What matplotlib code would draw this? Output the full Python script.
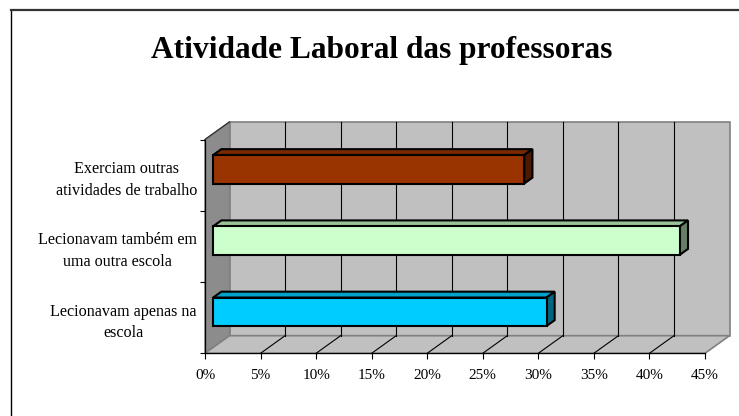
import matplotlib
matplotlib.use('Agg')
import matplotlib.pyplot as plt
from matplotlib.patches import Polygon
from matplotlib.lines import Line2D

plt.rcParams['font.family'] = ['Liberation Serif', 'DejaVu Serif']

# ---- data ----
categories = ["Lecionavam apenas na\nescola",
              "Lecionavam também em\numa outra escola",
              "Exerciam outras\natividades de trabalho"]
values = [30, 42, 28]
front_colors = ['#00ccff', '#ccffcc', '#993300']
top_colors = ['#00a3cc', '#99c299', '#7a2900']
side_colors = ['#006680', '#668066', '#4d1a00']
xticks = [0, 5, 10, 15, 20, 25, 30, 35, 40, 45]
xtick_labels = ['0%', '5%', '10%', '15%', '20%', '25%', '30%', '35%', '40%', '45%']
title = "Atividade Laboral das professoras"

# ---- figure / layout (pixel geometry) ----
W, H = 739, 416
fig = plt.figure(figsize=(W / 100, H / 100), dpi=100)
L, R, B, T = 205, 705, 353.3, 139.5
ax = fig.add_axes([L / W, 1 - B / H, (R - L) / W, (B - T) / H])
XMAX = 45
ax.set_xlim(0, XMAX)
ax.set_ylim(-0.5, 2.5)
ax.set_facecolor('none')

# depth offset in data units (oblique projection)
DX = 24.5 * XMAX / (R - L)
DY = 17.6 * 3 / (B - T)


def P(x, y, d):
    return (x + d * DX, y + d * DY)


def poly(pts, fc, ec, lw, z):
    ax.add_patch(Polygon(pts, closed=True, facecolor=fc, edgecolor=ec,
                         linewidth=lw, zorder=z, clip_on=False,
                         joinstyle='miter'))


y0, y1 = -0.5, 2.5
# back wall
poly([P(0, y0, 1), P(XMAX, y0, 1), P(XMAX, y1, 1), P(0, y1, 1)],
     '#c0c0c0', '#808080', 1.2, 0.5)
# side wall
poly([P(0, y0, 0), P(0, y0, 1), P(0, y1, 1), P(0, y1, 0)],
     '#8c8c8c', '#808080', 1.0, 0.6)
# floor
poly([P(0, y0, 0), P(XMAX, y0, 0), P(XMAX, y0, 1), P(0, y0, 1)],
     '#c0c0c0', '#808080', 1.2, 0.6)

# gridlines on back wall and floor
for xv in xticks[1:-1]:
    ax.add_line(Line2D(*zip(P(xv, y0, 1), P(xv, y1, 1)), color='black',
                       linewidth=0.8, zorder=0.8, clip_on=False))
    ax.add_line(Line2D(*zip(P(xv, y0, 0), P(xv, y0, 1)), color='black',
                       linewidth=0.8, zorder=0.8, clip_on=False))
# top-left edge of side wall
ax.add_line(Line2D(*zip(P(0, y1, 0), P(0, y1, 1)), color='#303030',
                   linewidth=0.9, zorder=0.9, clip_on=False))

# bars
hw = 0.2
d0, d1 = 1 / 3, 2 / 3
for i, v in enumerate(values):
    yc = i
    poly([P(0, yc + hw, d0), P(v, yc + hw, d0), P(v, yc + hw, d1), P(0, yc + hw, d1)],
         top_colors[i], 'black', 1.5, 3)
    poly([P(v, yc - hw, d0), P(v, yc - hw, d1), P(v, yc + hw, d1), P(v, yc + hw, d0)],
         side_colors[i], 'black', 1.5, 3)
    poly([P(0, yc - hw, d0), P(v, yc - hw, d0), P(v, yc + hw, d0), P(0, yc + hw, d0)],
         front_colors[i], 'black', 1.5, 4)

# axes / ticks
for s in ['top', 'right']:
    ax.spines[s].set_visible(False)
for s in ['left', 'bottom']:
    ax.spines[s].set_color('black')
    ax.spines[s].set_linewidth(0.9)
    ax.spines[s].set_zorder(1)

ax.set_xticks(xticks)
ax.set_xticklabels(xtick_labels, fontsize=11)
ax.tick_params(axis='x', direction='out', length=4.3, width=0.8, pad=7,
               color='black')
ax.set_yticks([-0.5, 0.5, 1.5, 2.5])
ax.set_yticklabels([])
ax.tick_params(axis='y', which='major', direction='out', length=3.6, width=0.8)
ax.set_yticks([0, 1, 2], minor=True)
ax.set_yticklabels(categories, minor=True, fontsize=11.6)
ax.tick_params(axis='y', which='minor', length=0, pad=5.8)
for lbl in ax.get_yticklabels(minor=True):
    lbl.set_multialignment('center')
    lbl.set_linespacing(1.45)

# title
fig.text(381.5 / W, 1 - 58.3 / H, title, ha='center', va='baseline',
         fontsize=22.6, fontweight='bold')

# chart frame (cropped at right/bottom)
fig.add_artist(Line2D([11.3 / W, 11.3 / W], [1 - 10 / H, -0.1],
                      transform=fig.transFigure, color='black', linewidth=1.0))
fig.add_artist(Line2D([11.3 / W, 1.1], [1 - 10 / H, 1 - 10 / H],
                      transform=fig.transFigure, color='#333333', linewidth=1.6))

fig.savefig('out.png', dpi=100, facecolor='white')
